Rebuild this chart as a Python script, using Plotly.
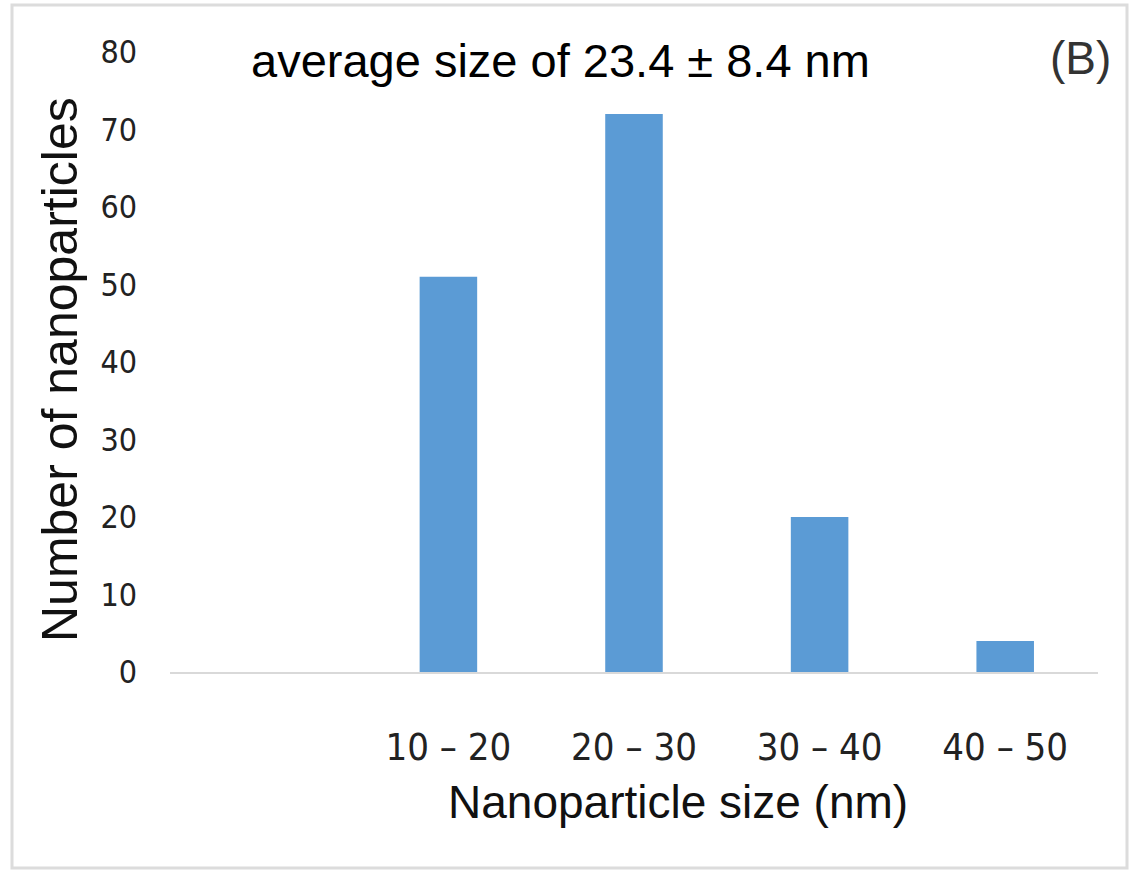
import plotly.graph_objects as go

categories = ["10 – 20", "20 – 30", "30 – 40", "40 – 50"]
counts = [51, 72, 20, 4]
y_ticks = [0, 10, 20, 30, 40, 50, 60, 70, 80]

W, H = 1136, 870
L, R, T, B = 170, 38, 52, 198
pw, ph = W - L - R, H - T - B

def px(x):
    return (x - L) / pw

def py(y):
    return (H - B - y) / ph

narrow = "Liberation Sans Narrow, Arial Narrow, DejaVu Sans Condensed, sans-serif"
regular = "Liberation Sans, Arial, sans-serif"

fig = go.Figure(go.Bar(
    x=categories, y=counts,
    marker=dict(color="#5B9BD5", line=dict(width=0)),
    width=0.31,
))

fig.update_layout(
    width=W, height=H,
    margin=dict(l=L, r=R, t=T, b=B),
    paper_bgcolor="white", plot_bgcolor="white",
    showlegend=False,
    xaxis=dict(
        type="category", categoryarray=categories, range=[-1.5, 3.5],
        showgrid=False, zeroline=False,
        showline=True, linecolor="#d9d9d9", linewidth=2,
        ticks="", tickfont=dict(family=narrow, size=38, color="#222"),
        ticklabelstandoff=40,
    ),
    yaxis=dict(
        range=[0, 80], tickvals=y_ticks, ticktext=[str(v) for v in y_ticks],
        showgrid=False, zeroline=False, showline=False,
        ticks="", tickfont=dict(family=narrow, size=32, color="#222"),
        ticklabelstandoff=32,
    ),
    annotations=[
        dict(text="average size of 23.4 ± 8.4 nm", xref="paper", yref="paper",
             x=px(560), y=py(60), showarrow=False, xanchor="center", yanchor="middle",
             font=dict(family=regular, size=47, color="#000")),
        dict(text="(B)", xref="paper", yref="paper",
             x=px(1080), y=py(58), showarrow=False, xanchor="center", yanchor="middle",
             font=dict(family=regular, size=46, color="#333")),
        dict(text="Nanoparticle size (nm)", xref="paper", yref="paper",
             x=px(678), y=py(802), showarrow=False, xanchor="center", yanchor="middle",
             font=dict(family=regular, size=46, color="#111")),
        dict(text="Number of nanoparticles", xref="paper", yref="paper", textangle=-90,
             x=px(60), y=py(370), showarrow=False, xanchor="center", yanchor="middle",
             font=dict(family=regular, size=50, color="#111")),
    ],
    shapes=[
        dict(type="rect", xref="paper", yref="paper",
             x0=px(12), x1=px(1127), y0=py(868), y1=py(5),
             line=dict(color="#dcdcdc", width=3), fillcolor="rgba(0,0,0,0)", layer="below"),
    ],
)

fig.write_html("out.html")
